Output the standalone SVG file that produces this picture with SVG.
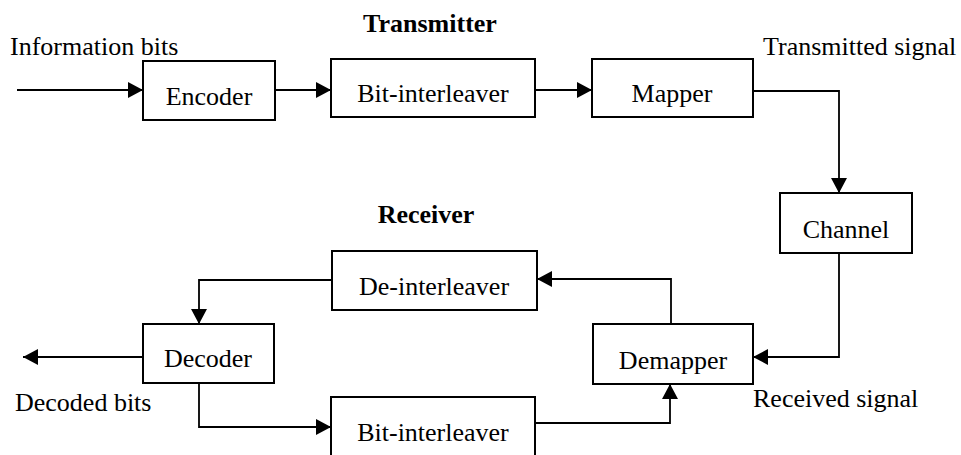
<svg xmlns="http://www.w3.org/2000/svg" width="961" height="455" viewBox="0 0 961 455">
<style>
.box{fill:#fff;stroke:#000;stroke-width:2}
.t{font-family:"Liberation Serif","Times New Roman",serif;font-size:26px;fill:#000}
.c{text-anchor:middle}
.b{font-weight:bold}
.ln{fill:none;stroke:#000;stroke-width:1.8;marker-end:url(#ah)}
</style>
<defs>
<marker id="ah" markerUnits="userSpaceOnUse" markerWidth="16" markerHeight="16" refX="15" refY="8" orient="auto">
<path d="M0,0 L15,8 L0,16 Z" fill="#000"/>
</marker>
</defs>
<rect width="961" height="455" fill="#fff"/>
<g id="labels">
<text class="t" x="10" y="55">Information bits</text>
<text class="t" x="763" y="55">Transmitted signal</text>
<text class="t b c" x="430" y="32">Transmitter</text>
<text class="t b c" x="426" y="223">Receiver</text>
<text class="t" x="15" y="411">Decoded bits</text>
<text class="t" x="753" y="407">Received signal</text>
</g>
<g id="connectors">
<path class="ln" d="M17,90 H143"/>
<path class="ln" d="M275,90 H331"/>
<path class="ln" d="M535,90 H592"/>
<path class="ln" d="M753,91 H839 V193"/>
<path class="ln" d="M839,253 V357 H753"/>
<path class="ln" d="M671,324 V279 H537"/>
<path class="ln" d="M332,280 H199 V324"/>
<path class="ln" d="M143,357 H23"/>
<path class="ln" d="M199,383 V427 H331"/>
<path class="ln" d="M535,423 H670 V384"/>
</g>
<g id="encoder"><rect class="box" x="143" y="61" width="132" height="59"/><text class="t c" x="209" y="105">Encoder</text></g>
<g id="bit-interleaver-tx"><rect class="box" x="331" y="59" width="204" height="58"/><text class="t c" x="433" y="102">Bit-interleaver</text></g>
<g id="mapper"><rect class="box" x="592" y="59" width="161" height="58"/><text class="t c" x="672" y="102">Mapper</text></g>
<g id="channel"><rect class="box" x="780" y="193" width="132" height="60"/><text class="t c" x="846" y="238">Channel</text></g>
<g id="demapper"><rect class="box" x="593" y="324" width="160" height="60"/><text class="t c" x="673" y="369">Demapper</text></g>
<g id="de-interleaver"><rect class="box" x="332" y="251" width="205" height="59"/><text class="t c" x="434" y="295">De-interleaver</text></g>
<g id="decoder"><rect class="box" x="143" y="324" width="131" height="59"/><text class="t c" x="208" y="367">Decoder</text></g>
<g id="bit-interleaver-rx"><rect class="box" x="331" y="397" width="204" height="70"/><text class="t c" x="433" y="441">Bit-interleaver</text></g>
</svg>
